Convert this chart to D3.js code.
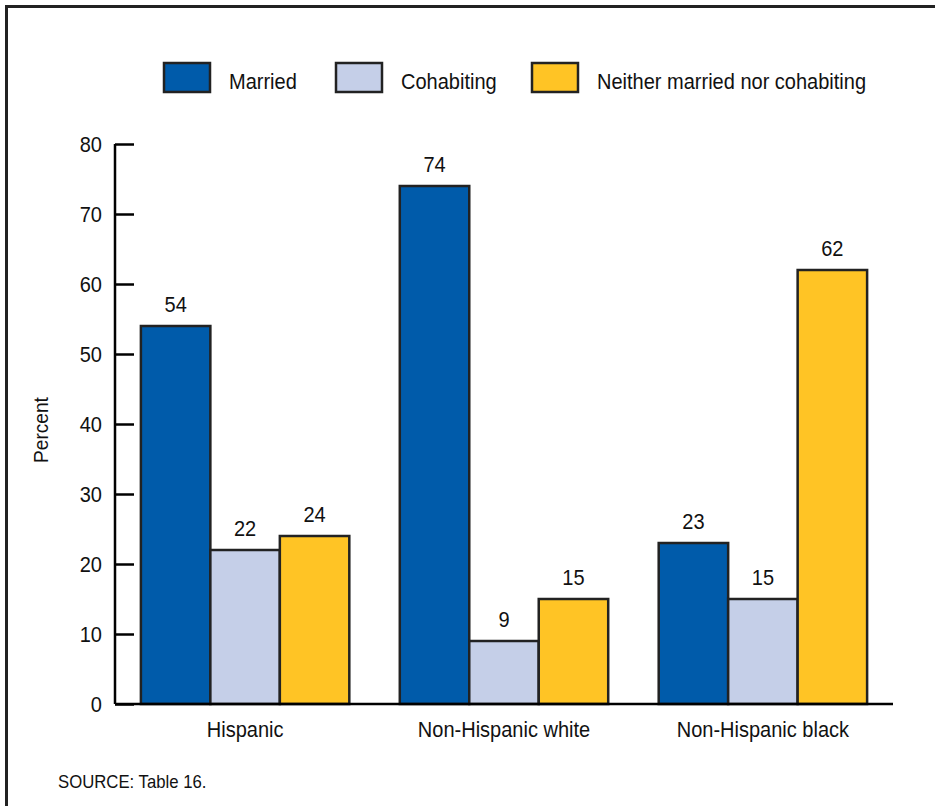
<!DOCTYPE html>
<html>
<head>
<meta charset="utf-8">
<script src="https://cdn.jsdelivr.net/npm/d3@7"></script>
<style>
  html, body { margin: 0; padding: 0; background: #fff; }
  svg { display: block; }
  text { font-family: "Liberation Sans", Arial, Helvetica, sans-serif; fill: #111; }
</style>
</head>
<body>
<svg id="chart" width="935" height="806"></svg>
<script>
const categories = ["Hispanic", "Non-Hispanic white", "Non-Hispanic black"];
const seriesNames = ["Married", "Cohabiting", "Neither married nor cohabiting"];
const married = [54, 74, 23];
const cohabiting = [22, 9, 15];
const neither = [24, 15, 62];
const yTicks = [0, 10, 20, 30, 40, 50, 60, 70, 80];
const colors = ["#005BAA", "#C5CFE8", "#FFC425"];
const sourceNote = "SOURCE: Table 16.";
const yLabel = "Percent";

const seriesValues = [married, cohabiting, neither];
const data = categories.map((c, i) => ({
  category: c,
  values: seriesNames.map((s, j) => ({ series: s, value: seriesValues[j][i], idx: j }))
}));

const svg = d3.select("#chart");

function label(sel, x, y, str, size, anchor, rot, sx) {
  const s = sx || 0.91;
  return sel.append("text")
    .attr("transform", `translate(${x},${y})` + (rot ? ` rotate(${rot})` : "") + ` scale(${s},1)`)
    .attr("text-anchor", anchor || "start")
    .style("font-size", size + "px")
    .text(str);
}

// frame (top and left)
svg.append("path")
  .attr("d", "M6.5,806 L6.5,6.5 L935,6.5")
  .attr("fill", "none").attr("stroke", "#222").attr("stroke-width", 3);

const x0 = d3.scaleBand().domain(categories).range([115, 893]).paddingInner(0.195).paddingOuter(0.1);
const x1 = d3.scaleBand().domain(seriesNames).range([0, x0.bandwidth()]);
const y = d3.scaleLinear().domain([0, 80]).range([704, 144]);

// bars
const groups = svg.append("g").selectAll("g.grp").data(data).join("g")
  .attr("transform", d => `translate(${x0(d.category)},0)`);
groups.selectAll("rect").data(d => d.values).join("rect")
  .attr("x", d => x1(d.series))
  .attr("y", d => y(d.value))
  .attr("width", x1.bandwidth())
  .attr("height", d => y(0) - y(d.value))
  .attr("fill", d => colors[d.idx])
  .attr("stroke", "#222")
  .attr("stroke-width", 2.5);
groups.each(function(d) {
  const gg = d3.select(this);
  d.values.forEach(v => {
    label(gg, x1(v.series) + x1.bandwidth() / 2, y(v.value) - 14, String(v.value), 22, "middle");
  });
});

// y axis
const yAxis = d3.axisRight(y).tickValues(yTicks).tickSize(19).tickFormat("");
const ya = svg.append("g").attr("transform", "translate(115,0)").call(yAxis);
ya.select(".domain").attr("stroke", "#000").attr("stroke-width", 2.5).attr("d", `M0,${y(80)}V${y(0)}`);
ya.selectAll(".tick line").attr("stroke", "#000").attr("stroke-width", 2.5);
yTicks.forEach(t => label(svg, 102, y(t) + 8, String(t), 22, "end"));

// x axis baseline
const xAxis = d3.axisBottom(x0).tickSize(0).tickFormat("");
const xa = svg.append("g").attr("transform", `translate(0,${y(0)})`).call(xAxis);
xa.select(".domain").attr("stroke", "#000").attr("stroke-width", 2.5).attr("d", "M115,0H893");
categories.forEach(c => label(svg, x0(c) + x0.bandwidth() / 2, 737, c, 22, "middle"));

// y label
label(svg, 48, 430, yLabel, 21, "middle", -90);

// legend
const legendX = [163, 335, 531];
seriesNames.forEach((s, i) => {
  svg.append("rect")
    .attr("x", legendX[i] + 1).attr("y", 63)
    .attr("width", 46).attr("height", 29)
    .attr("fill", colors[i]).attr("stroke", "#222").attr("stroke-width", 2.5);
  label(svg, legendX[i] + 66, 89, s, 22, "start");
});

// source
label(svg, 58, 788, sourceNote, 18, "start", 0, 0.93);
</script>
</body>
</html>
